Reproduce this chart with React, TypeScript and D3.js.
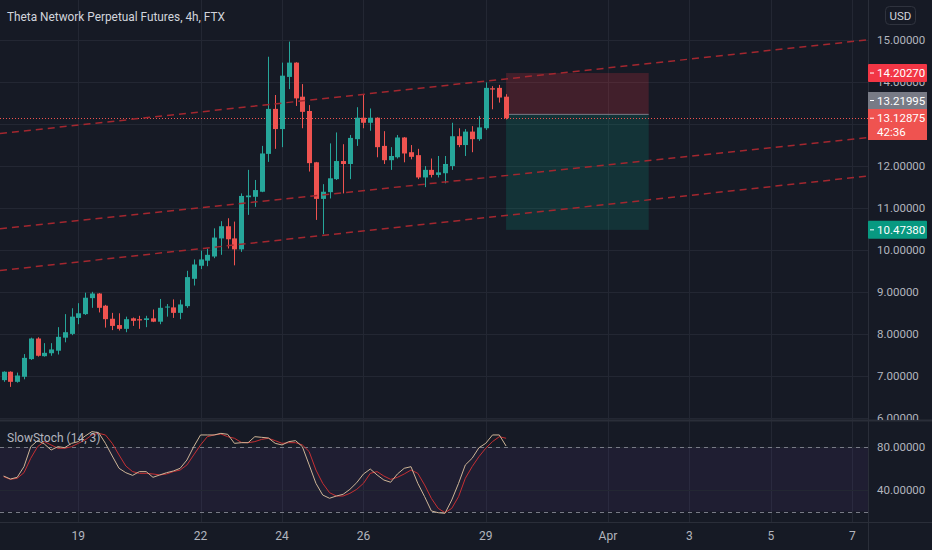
import React from 'react';
import * as d3 from 'd3';

// ---------- data ----------
const chartTitle = 'Theta Network Perpetual Futures, 4h, FTX';
const indicatorTitle = 'SlowStoch (14, 3)';
const currencyLabel = 'USD';
const countdownLabel = '42:36';

// 4h bars; bar index 0 = Mar 19 00:00
const firstBarIndex = -11;

const opens = [6.90, 7.10, 6.86, 6.98, 7.40, 7.89, 7.47, 7.54, 7.60, 7.91, 8.00, 8.38, 8.47, 8.85, 8.96, 8.67, 8.36, 8.21, 8.12, 8.37, 8.35, 8.33, 8.37, 8.29, 8.63, 8.63, 8.50, 8.66, 9.31, 9.62, 9.74, 9.84, 10.27, 10.56, 10.27, 10.01, 11.25, 11.26, 11.38, 12.28, 13.35, 12.87, 14.11, 14.45, 13.64, 13.30, 12.08, 11.21, 11.37, 11.68, 12.11, 12.04, 12.63, 13.14, 13.02, 13.14, 12.47, 12.13, 12.20, 12.67, 12.32, 12.25, 11.72, 11.90, 11.78, 11.82, 11.99, 12.70, 12.49, 12.81, 12.63, 12.89, 13.84, 13.85, 13.64];
const highs = [7.11, 7.11, 7.08, 7.52, 7.91, 7.92, 7.78, 7.78, 8.16, 8.47, 8.61, 8.73, 8.98, 9.00, 8.97, 8.69, 8.50, 8.49, 8.41, 8.39, 8.43, 8.43, 8.58, 8.83, 8.71, 8.82, 8.81, 9.50, 9.77, 9.98, 10.03, 10.51, 10.68, 10.75, 10.67, 11.34, 11.90, 11.66, 12.47, 14.59, 13.68, 14.45, 14.95, 14.46, 13.94, 13.44, 12.09, 11.56, 12.53, 12.79, 12.51, 12.73, 13.39, 13.70, 13.36, 13.15, 12.82, 12.44, 12.73, 12.68, 12.49, 12.40, 11.99, 12.17, 12.23, 12.23, 13.02, 12.89, 12.87, 12.94, 13.18, 13.98, 13.89, 13.92, 13.70];
const lows = [6.86, 6.74, 6.84, 6.92, 7.38, 7.46, 7.46, 7.48, 7.51, 7.80, 7.97, 8.23, 8.45, 8.62, 8.51, 8.15, 8.09, 8.08, 8.04, 8.19, 8.12, 8.16, 8.28, 8.23, 8.41, 8.38, 8.35, 8.62, 9.15, 9.54, 9.61, 9.80, 9.88, 10.03, 9.63, 9.95, 10.83, 11.02, 11.37, 12.09, 12.40, 12.44, 13.82, 13.42, 12.89, 11.86, 10.71, 10.37, 11.22, 11.66, 11.34, 11.68, 12.47, 12.89, 12.83, 12.20, 12.04, 11.90, 12.17, 12.08, 12.15, 11.68, 11.49, 11.72, 11.72, 11.58, 11.90, 12.44, 12.23, 12.32, 12.59, 12.85, 13.34, 13.50, 13.10];
const closes = [7.10, 6.86, 7.01, 7.43, 7.89, 7.48, 7.55, 7.63, 7.93, 8.04, 8.41, 8.49, 8.86, 8.96, 8.62, 8.35, 8.19, 8.12, 8.35, 8.31, 8.32, 8.37, 8.29, 8.62, 8.65, 8.50, 8.70, 9.35, 9.65, 9.77, 9.88, 10.29, 10.56, 10.25, 10.01, 11.28, 11.29, 11.42, 12.29, 13.35, 12.87, 14.14, 14.45, 13.60, 13.28, 12.06, 11.21, 11.38, 11.70, 12.11, 12.04, 12.66, 13.14, 13.02, 13.14, 12.44, 12.13, 12.23, 12.67, 12.29, 12.21, 11.72, 11.90, 11.78, 11.84, 12.04, 12.70, 12.49, 12.81, 12.63, 12.91, 13.85, 13.81, 13.62, 13.12875];

const stochK = [53.0, 50.2, 51.8, 61.7, 80.3, 85.9, 82.8, 77.2, 80.3, 79.4, 83.4, 85.0, 90.2, 94.3, 93.3, 83.4, 71.6, 60.2, 56.1, 53.6, 57.1, 57.1, 51.8, 54.0, 56.1, 57.7, 60.2, 67.9, 80.3, 91.2, 91.2, 91.2, 92.7, 91.8, 83.4, 84.0, 84.0, 89.6, 89.0, 88.4, 83.4, 81.9, 85.0, 85.9, 80.3, 63.3, 46.2, 35.3, 32.3, 34.4, 36.0, 40.6, 46.8, 54.9, 59.5, 54.0, 49.3, 47.2, 54.9, 60.2, 61.7, 46.2, 33.8, 20.5, 18.9, 18.3, 30.7, 46.2, 63.3, 69.5, 79.3, 83.4, 91.2, 91.2, 80.9];
const stochD = [52.4, 49.9, 50.9, 56.1, 69.5, 80.3, 85.0, 81.9, 78.8, 78.8, 80.3, 83.4, 86.5, 91.2, 92.7, 91.2, 83.4, 72.6, 62.3, 57.1, 55.5, 55.5, 54.9, 54.0, 54.9, 57.1, 58.6, 63.3, 72.6, 81.9, 89.6, 91.2, 92.1, 89.6, 88.1, 84.3, 84.0, 85.0, 87.1, 88.1, 85.9, 83.4, 84.0, 84.0, 81.9, 75.7, 58.6, 46.2, 37.5, 34.4, 34.4, 36.9, 40.6, 46.2, 55.5, 57.1, 53.0, 49.9, 51.8, 54.9, 58.6, 55.5, 44.7, 32.2, 22.9, 18.9, 22.9, 33.8, 50.9, 61.7, 71.0, 78.8, 85.0, 89.6, 88.1];

const dayTickOffsets = [0, 3, 5, 7, 10, 13, 15, 17, 19]; // days after Mar 19
const dayTickLabels = ['19', '22', '24', '26', '29', 'Apr', '3', '5', '7'];
const priceTicks = [6, 7, 8, 9, 10, 11, 12, 13, 14, 15];
const stochGridTicks = [80, 40];
const stochBandLevels = [20, 80];

// channel drawing anchors: bar index and price at each end
const trendBarAnchors = [-11.53, 116.3];
const trendStartPrices = [12.764, 10.501, 9.507];
const trendEndPrices = [14.992, 12.667, 11.754];

// short position tool
const positionBars = [63, 84];
const entryPrice = 13.21995;
const stopPrice = 14.2027;
const targetPrice = 10.4738;

// ---------- layout ----------
const W = 932;
const H = 550;
const plotRight = 868;
const mainBottom = 420;
const stochTop = 421;
const stochBottom = 522;
const barsPerDay = 6;

const BG = '#161a25';
const GRID = '#232733';
const AXIS_TEXT = '#b2b5be';
const UP = '#26a69a';
const DOWN = '#ef5350';
const FONT = "Roboto, 'Noto Sans', 'Liberation Sans', sans-serif";

const x = d3.scaleLinear().domain([-11.53, 116.3]).range([0, plotRight]);
const y = d3.scaleLinear().domain([6, 15]).range([418, 39.5]);
const ys = d3.scaleLinear().domain([20, 80]).range([511.5, 447]);

const fmt = (v: number) => v.toFixed(5);

export default function App() {
  const step = x(1) - x(0);
  const bodyW = Math.max(1, Math.round(step * 0.7));
  const lastClose = closes[closes.length - 1];

  const kLine = d3
    .line<number>()
    .x((_, i) => x(firstBarIndex + i))
    .y((v) => ys(v));

  const lastY = y(lastClose);
  const redTop = Math.round(lastY) - 9;
  const grayCenter = Math.min(y(entryPrice), redTop - 8.5);

  const colored = [
    { price: stopPrice, c: y(stopPrice), color: '#f23645' },
    { price: targetPrice, c: y(targetPrice), color: '#089981' },
  ];

  // axis tick labels entirely hidden behind a coloured label are not drawn
  const covered = (py: number) =>
    colored.some((l) => Math.abs(l.c - py) < 5) ||
    Math.abs(grayCenter - py) < 5 ||
    (py > redTop + 4 && py < redTop + 27);

  return (
    <div style={{ position: 'fixed', left: 0, top: 0, width: W, height: H, background: BG }}>
      <svg width={W} height={H} style={{ display: 'block', fontFamily: FONT }}>
        <defs>
          <clipPath id="mainClip">
            <rect x={0} y={0} width={plotRight} height={mainBottom} />
          </clipPath>
          <clipPath id="stochClip">
            <rect x={0} y={stochTop} width={plotRight} height={stochBottom - stochTop} />
          </clipPath>
          <clipPath id="axisClip">
            <rect x={plotRight} y={0} width={W - plotRight} height={mainBottom} />
          </clipPath>
        </defs>
        <rect x={0} y={0} width={W} height={H} fill={BG} />

        {/* vertical grid */}
        {dayTickOffsets.map((d, i) => (
          <line key={'vg' + i} x1={Math.round(x(d * barsPerDay)) + 0.5} x2={Math.round(x(d * barsPerDay)) + 0.5} y1={0} y2={stochBottom} stroke={GRID} />
        ))}
        {/* horizontal grid main */}
        <g clipPath="url(#mainClip)">
          {priceTicks.map((p) => (
            <line key={'hg' + p} x1={0} x2={plotRight} y1={Math.round(y(p)) + 0.5} y2={Math.round(y(p)) + 0.5} stroke={GRID} />
          ))}
        </g>

        {/* stoch pane */}
        <g clipPath="url(#stochClip)">
          <rect x={0} y={ys(stochBandLevels[1])} width={plotRight} height={ys(stochBandLevels[0]) - ys(stochBandLevels[1])} fill="rgba(120,80,185,0.09)" />
          {stochGridTicks.map((v) => (
            <line key={'sg' + v} x1={0} x2={plotRight} y1={Math.round(ys(v)) + 0.5} y2={Math.round(ys(v)) + 0.5} stroke={GRID} />
          ))}
          {stochBandLevels.map((v) => (
            <line key={'sb' + v} x1={0} x2={plotRight} y1={Math.round(ys(v)) + 0.5} y2={Math.round(ys(v)) + 0.5} stroke="#787b86" strokeDasharray="4 4" />
          ))}
          <path d={kLine(stochD) || ''} fill="none" stroke="#c62f32" strokeWidth={1} />
          <path d={kLine(stochK) || ''} fill="none" stroke="#cdb597" strokeWidth={1} />
        </g>

        {/* pane separators and axis lines */}
        <line x1={0} x2={W} y1={mainBottom + 0.5} y2={mainBottom + 0.5} stroke="#2a2e39" strokeWidth={2} />
        <line x1={0} x2={W} y1={stochBottom + 0.5} y2={stochBottom + 0.5} stroke="#2a2e39" />
        <line x1={plotRight + 0.5} x2={plotRight + 0.5} y1={0} y2={H} stroke="#2a2e39" />

        <g clipPath="url(#mainClip)">
          {/* position tool */}
          <rect x={x(positionBars[0])} y={y(stopPrice)} width={x(positionBars[1]) - x(positionBars[0])} height={y(entryPrice) - y(stopPrice)} fill="rgba(242,54,69,0.2)" />
          <rect x={x(positionBars[0])} y={y(entryPrice)} width={x(positionBars[1]) - x(positionBars[0])} height={y(targetPrice) - y(entryPrice)} fill="rgba(8,153,129,0.2)" />
          <line x1={x(positionBars[0])} x2={x(positionBars[1])} y1={y(entryPrice)} y2={y(entryPrice)} stroke="#787b86" strokeWidth={1} />

          {/* last price dotted line */}
          <line x1={0} x2={plotRight} y1={Math.round(lastY) + 0.5} y2={Math.round(lastY) + 0.5} stroke={DOWN} strokeDasharray="1 2" />

          {/* candles */}
          {opens.map((o, i) => {
            const c = closes[i];
            const up = c >= o;
            const col = up ? UP : DOWN;
            const cx = Math.round(x(firstBarIndex + i));
            const top = y(Math.max(o, c));
            const bot = y(Math.min(o, c));
            return (
              <g key={'c' + i}>
                <line x1={cx + 0.5} x2={cx + 0.5} y1={y(highs[i])} y2={y(lows[i])} stroke={col} strokeWidth={1} />
                <rect x={cx - Math.floor(bodyW / 2)} y={top} width={bodyW} height={Math.max(1, bot - top)} fill={col} />
              </g>
            );
          })}

          {/* channel lines */}
          {trendStartPrices.map((p, i) => (
            <line key={'tl' + i} x1={x(trendBarAnchors[0])} y1={y(p)} x2={x(trendBarAnchors[1])} y2={y(trendEndPrices[i])} stroke="#a3272f" strokeWidth={1.5} strokeDasharray="7 5" />
          ))}
        </g>

        {/* title */}
        <text x={7} y={21} fill="#d1d4dc" fontSize={13} textLength={218} lengthAdjust="spacingAndGlyphs">{chartTitle}</text>
        <text x={7} y={442} fill={AXIS_TEXT} fontSize={12}>{indicatorTitle}</text>

        {/* price axis labels */}
        <g clipPath="url(#axisClip)">
          {priceTicks.filter((p) => !covered(y(p))).map((p) => (
            <text key={'pl' + p} x={877} y={y(p)} dy="0.36em" fill={AXIS_TEXT} fontSize={11.5}>{fmt(p)}</text>
          ))}
        </g>
        {stochGridTicks.map((v) => (
          <text key={'sl' + v} x={877} y={ys(v)} dy="0.36em" fill={AXIS_TEXT} fontSize={11.5}>{fmt(v)}</text>
        ))}

        {/* colored price labels */}
        {colored.map((l, i) => (
          <g key={'cl' + i}>
            <rect x={plotRight} y={l.c - 9} width={59} height={18} fill={l.color} rx={1} />
            <line x1={plotRight + 2} x2={plotRight + 6} y1={l.c} y2={l.c} stroke="#fff" />
            <text x={877} y={l.c} dy="0.36em" fill="#fff" fontSize={11.5}>{fmt(l.price)}</text>
          </g>
        ))}
        <rect x={plotRight} y={grayCenter - 8.5} width={59} height={17} fill="#787b86" />
        <line x1={plotRight + 2} x2={plotRight + 6} y1={grayCenter} y2={grayCenter} stroke="#fff" />
        <text x={877} y={grayCenter} dy="0.36em" fill="#fff" fontSize={11.5}>{fmt(entryPrice)}</text>

        <rect x={plotRight} y={redTop} width={59} height={31} fill={DOWN} />
        <line x1={plotRight + 2} x2={plotRight + 6} y1={lastY} y2={lastY} stroke="#fff" />
        <text x={877} y={redTop + 9} dy="0.36em" fill="#fff" fontSize={11.5}>{fmt(lastClose)}</text>
        <text x={877} y={redTop + 23} dy="0.36em" fill="#fff" fontSize={11.5}>{countdownLabel}</text>

        {/* USD button */}
        <rect x={885.5} y={6.5} width={30} height={18} rx={4} fill="none" stroke="#2f333e" />
        <text x={900.5} y={15.5} dy="0.36em" textAnchor="middle" fill="#d1d4dc" fontSize={11.5}>{currencyLabel}</text>

        {/* time axis */}
        {dayTickOffsets.map((d, i) => (
          <text key={'xl' + i} x={x(d * barsPerDay)} y={536} dy="0.36em" textAnchor="middle" fill={AXIS_TEXT} fontSize={12}>{dayTickLabels[i]}</text>
        ))}
      </svg>
    </div>
  );
}
